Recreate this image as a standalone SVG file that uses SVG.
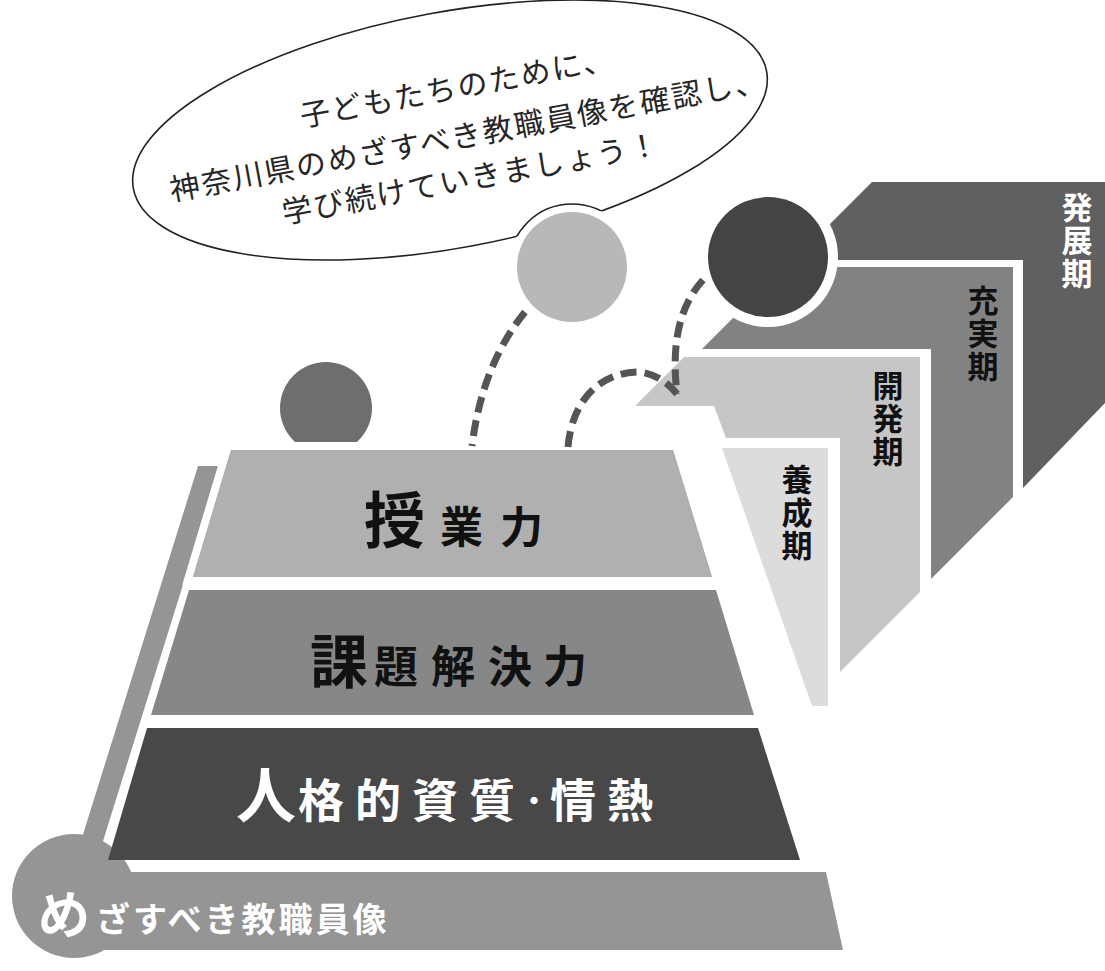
<svg xmlns="http://www.w3.org/2000/svg" width="1105" height="971" viewBox="0 0 1105 971">
  <style>
    .bubble-text { font-family: "Noto Sans CJK JP", "Noto Sans", sans-serif; font-size: 30px; letter-spacing: 2px; fill: #262626; }
    .stage { font-family: "Noto Sans CJK JP", "Noto Sans", sans-serif; font-size: 31px; font-weight: 700; text-anchor: middle; writing-mode: vertical-rl; letter-spacing: 2px; }
    .layer-text { font-family: "Noto Sans CJK JP", "Noto Sans", sans-serif; font-weight: 700; }
    .dash { fill: none; stroke: #555; stroke-width: 7; stroke-dasharray: 16 8; }
  </style>
  <defs>
    <clipPath id="bubbleClip">
      <ellipse cx="450" cy="130" rx="322" ry="118" transform="rotate(-10.5 450 130)"/>
    </clipPath>
  </defs>

  <rect width="1105" height="971" fill="#fff"/>

  <!-- career stages, nested L-shaped bands -->
  <g id="stage-hatten">
    <polygon points="794,260 872,182 1105,182 1105,403 1023,488 1023,260" fill="#606060"/>
    <text class="stage" fill="#fff" x="1077" y="241">発展期</text>
  </g>
  <g id="stage-jujitsu">
    <polygon points="702,349 784,267 1013,267 1013,497 931,579 931,349" fill="#828282"/>
    <text class="stage" fill="#111" x="983" y="334">充実期</text>
  </g>
  <g id="stage-kaihatsu">
    <polygon points="635,406 684,357 920,357 920,592 840,672 840,438 726,438 714,406" fill="#c6c6c6"/>
    <text class="stage" fill="#111" x="888" y="419">開発期</text>
  </g>
  <g id="stage-yosei">
    <polygon points="722,448 828,448 828,706 812,706" fill="#dcdcdc"/>
    <text class="stage" fill="#111" x="797" y="513">養成期</text>
  </g>

  <!-- speech bubble -->
  <g id="bubble">
    <ellipse cx="450" cy="130" rx="322" ry="118" transform="rotate(-10.5 450 130)" fill="#fff" stroke="#222" stroke-width="1.6"/>
    <text class="bubble-text" text-anchor="middle" transform="translate(457 87) rotate(-10.5)" y="11">子どもたちのために、</text>
    <text class="bubble-text" text-anchor="middle" transform="translate(468 135) rotate(-10.5)" y="11">神奈川県のめざすべき教職員像を確認し、</text>
    <text class="bubble-text" text-anchor="middle" transform="translate(471 178) rotate(-10.5)" y="11">学び続けていきましょう！</text>
  </g>

  <!-- circles -->
  <g id="circle-light">
    <circle cx="572" cy="267" r="63" fill="#fff"/>
    <circle cx="572" cy="267" r="63" fill="none" stroke="#222" stroke-width="1.6" clip-path="url(#bubbleClip)"/>
    <circle cx="572" cy="267" r="55" fill="#b8b8b8"/>
  </g>
  <g id="circle-dark">
    <circle cx="768" cy="257" r="70" fill="#fff"/>
    <circle cx="768" cy="257" r="60" fill="#444"/>
  </g>
  <g id="circle-mid">
    <circle cx="326" cy="408" r="46" fill="#6e6e6e"/>
  </g>

  <!-- base band: めざすべき教職員像 -->
  <g id="base">
    <polygon points="198,466 220,466 93.4,872 826,872 843,950 74,950 74.4,862" fill="#959595"/>
    <circle cx="74" cy="896" r="62" fill="#959595"/>
    <text class="layer-text" fill="#fff">
      <tspan x="38" y="934" font-size="52">め</tspan>
      <tspan x="96" y="932" font-size="34" letter-spacing="3">ざすべき教職員像</tspan>
    </text>
  </g>

  <!-- pyramid layers -->
  <g id="layer-jugyo">
    <polygon points="231,450 673,450 712,577 193,577" fill="#b0b0b0" stroke="#fff" stroke-width="16" paint-order="stroke"/>
    <polygon points="231,450 673,450 712,577 193,577" fill="#b0b0b0"/>
    <text class="layer-text" fill="#111">
      <tspan x="364" y="543" font-size="61">授</tspan>
      <tspan x="440" y="543" font-size="43">業</tspan>
      <tspan x="500" y="543" font-size="43">力</tspan>
    </text>
  </g>
  <g id="layer-kadai">
    <polygon points="189,590 716,590 754,715 151,715" fill="#878787"/>
    <text class="layer-text" fill="#111">
      <tspan x="310" y="683" font-size="58">課</tspan>
      <tspan x="374" y="683" font-size="44">題</tspan>
      <tspan x="431" y="683" font-size="44">解</tspan>
      <tspan x="488" y="683" font-size="44">決</tspan>
      <tspan x="543" y="683" font-size="44">力</tspan>
    </text>
  </g>
  <g id="layer-jinkaku">
    <polygon points="147,728 758,728 800,860 108,860" fill="#484848"/>
    <text class="layer-text" fill="#fff" font-weight="400">
      <tspan x="236" y="818" font-size="60">人</tspan>
      <tspan x="298" y="817" font-size="46">格</tspan>
      <tspan x="355" y="817" font-size="46">的</tspan>
      <tspan x="412" y="817" font-size="46">資</tspan>
      <tspan x="469" y="817" font-size="46">質</tspan>
      <tspan x="520" y="812" font-size="28">・</tspan>
      <tspan x="550" y="817" font-size="46">情</tspan>
      <tspan x="607" y="817" font-size="46">熱</tspan>
    </text>
  </g>

  <!-- dashed connectors -->
  <g id="connectors">
    <path class="dash" d="M 525 312 Q 482 365 472 446"/>
    <path class="dash" d="M 703 280 Q 668 318 677 394"/>
    <path class="dash" d="M 568 447 C 572 400 600 372 640 372 Q 662 375 677 394"/>
  </g>
</svg>
